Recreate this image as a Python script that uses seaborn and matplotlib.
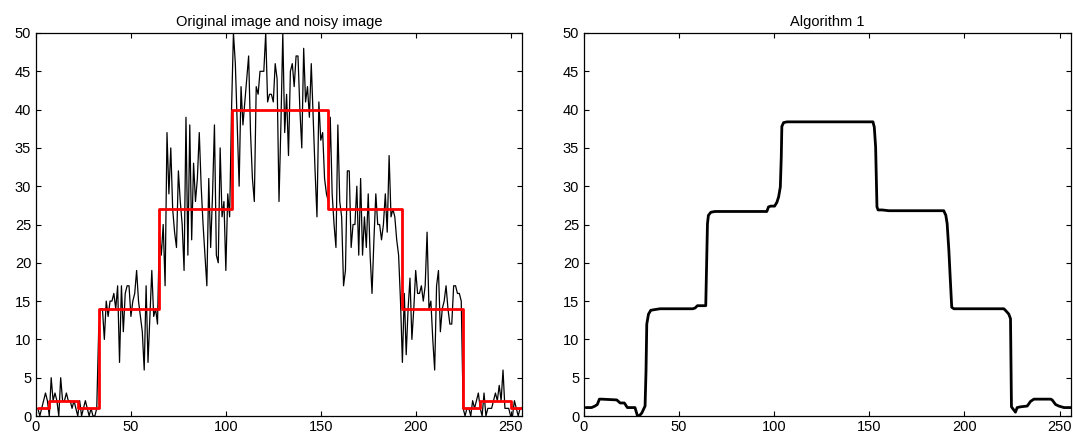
import numpy as np
import matplotlib
matplotlib.use("Agg")
import matplotlib.pyplot as plt
import seaborn as sns

# ---------------- data ----------------
# noisy observation, samples 1..256
noisy = [
    # 1-32
    1, 0, 1, 2, 3, 2, 0, 5, 2, 3, 2, 0, 5, 2, 2, 3, 2, 2, 1, 2, 1, 0, 2, 0, 1, 2, 1, 0, 1, 0, 0, 1,
    # 33-64
    11, 14, 14, 10, 15, 13, 15, 15, 16, 14, 17, 7, 17, 11, 16, 17, 17, 13, 15, 16, 19, 15, 13, 11,
    6, 17, 7, 13, 19, 13, 14, 12,
    # 65-103
    24, 21, 25, 17, 37, 29, 35, 27, 24, 22, 32, 28, 25, 19, 39, 21, 38, 23, 33, 28, 31, 37, 30, 25,
    21, 17, 31, 22, 29, 38, 21, 20, 35, 26, 28, 19, 29, 26, 40,
    # 104-153
    50, 46, 38, 30, 43, 38, 41, 44, 47, 37, 31, 28, 43, 42, 45, 45, 45, 50, 41, 42, 42, 41, 46, 44,
    28, 38, 50, 37, 42, 34, 45, 46, 43, 47, 47, 40, 35, 48, 41, 43, 39, 46, 39, 32, 26, 41, 36, 37,
    31, 29,
    # 154-192
    28, 39, 29, 25, 22, 38, 28, 26, 17, 19, 32, 32, 22, 25, 25, 30, 21, 31, 21, 26, 22, 29, 21, 16,
    23, 29, 25, 25, 23, 25, 29, 24, 34, 26, 27, 26, 23, 21, 15,
    # 193-224
    7, 16, 8, 14, 18, 10, 14, 19, 16, 16, 17, 15, 17, 24, 14, 15, 10, 6, 17, 19, 11, 14, 15, 17,
    14, 12, 12, 17, 17, 16, 16, 15,
    # 225-256
    1, 0, 1, 1, 0, 2, 1, 2, 3, 1, 0, 3, 0, 1, 1, 1, 2, 3, 2, 4, 2, 6, 1, 1, 1, 0, 0, 2, 1, 0, 1, 1,
]
sample_idx = np.arange(1, len(noisy) + 1)

# original piecewise-constant image (step start positions and levels)
orig_x = [1, 7, 22, 33, 65, 103, 154, 193, 225, 234, 250, 256]
orig_y = [1, 2, 1, 14, 27, 40, 27, 14, 1, 2, 1, 1]

# Algorithm 1 result (vertices)
alg_x = [1, 4, 5.8, 7, 8.1, 9.3, 17.2, 19, 21.2, 22.8, 26.8, 28, 29, 30.4, 32.1, 32.6,
         33, 33.9, 35.1, 37.4, 40, 57.2, 58.4, 59.6, 64, 64.9, 65.4, 66.7, 68.9, 96.1,
         97, 98.2, 100.2, 101.4, 102.3, 103.2, 103.7, 104, 104.9, 106.7, 151.9, 152.6,
         153.3, 154, 154.6, 156.7, 160.2, 189.1, 190.2, 190.9, 191.8, 192.6, 193.3, 194.4,
         220.7, 221.9, 223.3, 224.2, 224.7, 225.6, 226.8, 227.7, 229.5, 233, 234.7, 236.5,
         245.3, 246.1, 247.9, 249.6, 252.3, 256]
alg_y = [1.1, 1.1, 1.3, 1.5, 2.2, 2.2, 2.1, 1.7, 1.7, 1.1, 1.1, 0.1, 0, 0.4, 1.3, 5.9,
         12, 13.3, 13.8, 13.9, 14, 14, 14.1, 14.4, 14.4, 25.1, 26.2, 26.6, 26.7, 26.7,
         27.3, 27.4, 27.4, 27.9, 28.6, 29.9, 33.8, 37.8, 38.3, 38.4, 38.4, 37.7,
         35.1, 27.3, 26.9, 26.9, 26.8, 26.8, 26.2, 25.1, 21.6, 17.6, 14.2, 14,
         14, 13.7, 13.3, 12.7, 1.2, 0.9, 0.5, 1.1, 1.2, 1.3, 1.9, 2.2,
         2.2, 2.1, 1.5, 1.3, 1.1, 1.1]

titles = ["Original image and noisy image", "Algorithm 1"]
x_ticks = [0, 50, 100, 150, 200, 250]
y_ticks = [0, 5, 10, 15, 20, 25, 30, 35, 40, 45, 50]

# ---------------- style ----------------
sns.set_theme(style="ticks")
plt.rcParams["font.family"] = ["Liberation Sans", "DejaVu Sans"]
plt.rcParams.update({
    "xtick.direction": "in", "ytick.direction": "in",
    "xtick.top": True, "ytick.right": True,
    "xtick.major.size": 3.5, "ytick.major.size": 3.5,
    "xtick.major.width": 0.8, "ytick.major.width": 0.8,
    "axes.linewidth": 0.9, "axes.edgecolor": "black",
    "xtick.color": "black", "ytick.color": "black",
    "xtick.labelcolor": "black", "ytick.labelcolor": "black",
    "text.color": "black", "axes.titlecolor": "black",
    "xtick.labelsize": 10.5, "ytick.labelsize": 10.5,
    "xtick.major.pad": 3, "ytick.major.pad": 3.5,
})

fig = plt.figure(figsize=(10.73, 4.34), dpi=100)
W, H = 1073, 434
ax1 = fig.add_axes([36 / W, 18 / H, 486 / W, 383 / H])
ax2 = fig.add_axes([584 / W, 18 / H, 487 / W, 383 / H])

sns.lineplot(x=sample_idx, y=noisy, ax=ax1, color="black", linewidth=0.9,
             estimator=None, sort=False)
sns.lineplot(x=orig_x, y=orig_y, ax=ax1, color="#ff0000", linewidth=2.0,
             estimator=None, sort=False, drawstyle="steps-post")
sns.lineplot(x=alg_x, y=alg_y, ax=ax2, color="black", linewidth=2.0,
             estimator=None, sort=False)

for ax, t in zip((ax1, ax2), titles):
    ax.set_xlim(0, 256)
    ax.set_ylim(0, 50)
    ax.set_xticks(x_ticks)
    ax.set_yticks(y_ticks)
    ax.set_xlabel("")
    ax.set_ylabel("")
    ax.set_title(t, fontsize=10.5, pad=5, color="black")
    for s in ax.spines.values():
        s.set_visible(True)
        s.set_color("black")

fig.savefig("out.png", dpi=100)
